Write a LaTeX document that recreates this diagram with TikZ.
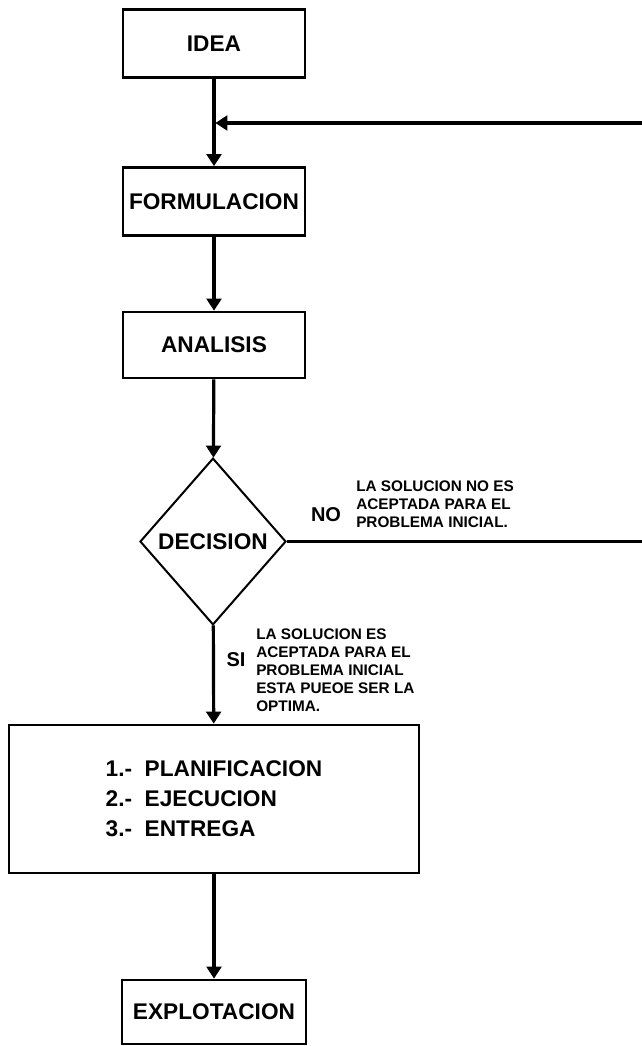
\documentclass[tikz,border=0pt]{standalone}
\usepackage{fontspec}
\setmainfont{Liberation Sans}
\usepackage{tikz}
\usetikzlibrary{positioning, shapes.geometric, arrows.meta, calc}
\tikzstyle{caja}  = [rectangle, draw, line width=2pt, align=center, inner sep=2pt,
                     font=\fontsize{17}{22.5}\selectfont\bfseries,
                     minimum width=136.5pt, minimum height=51pt]
\begin{document}
\begin{tikzpicture}[
  x=0.75pt, y=-0.75pt,
  >={Triangle[length=9pt,width=11pt]},
  rombo/.style={diamond, draw, line width=1.5pt, inner sep=1pt,
                font=\fontsize{17}{20}\selectfont\bfseries,
                minimum width=109.5pt, minimum height=125pt},
  nota/.style={align=left, inner sep=0pt, anchor=north west,
               font=\fontsize{11.5}{13.5}\selectfont\bfseries},
  rama/.style={inner sep=0pt, font=\fontsize{15}{15}\selectfont\bfseries},
  arr/.style={->, line width=2.4pt},
  lin/.style={line width=2.4pt}
]
\useasboundingbox (0,0) rectangle (642,1046);
\node[caja] (idea) at (214, 43.5) {IDEA};
\node[caja] (form) at (214, 201.5) {FORMULACION};
\node[caja, minimum height=49.5pt] (anal) at (214, 345) {ANALISIS};
\node[rombo] (dec) at (213, 541.5) {DECISION};
\node[caja, align=left, minimum width=307.5pt, minimum height=111pt] (plan) at (214, 799)
  {1.-\ \ PLANIFICACION\\2.-\ \ EJECUCION\\3.-\ \ ENTREGA};
\node[caja, minimum width=138pt, minimum height=48pt] (expl) at (214, 1012) {EXPLOTACION};
% retorno desde el lado derecho
\coordinate (borde) at (642, 123);
\coordinate (junta) at (214, 123);
\node[rama] (no) at (326, 515) {NO};
\node[nota] (notano) at (356, 481) {LA SOLUCION NO ES\\ACEPTADA PARA EL\\PROBLEMA INICIAL.};
\node[rama] (si) at (236, 660) {SI};
\node[nota] (notasi) at (256, 629) {LA SOLUCION ES\\ACEPTADA PARA EL\\PROBLEMA INICIAL\\ESTA PUEOE SER LA\\OPTIMA.};
\draw[lin] (idea) -- (junta);
\draw[arr] (junta) -- (form);
\draw[arr, shorten >=1pt] (borde) -- (junta);
\draw[arr] (form) -- (anal);
\draw[arr] (anal) -- (dec);
\draw[lin] (dec.east) -- (dec.east -| borde);
\draw[arr] (dec) -- (plan);
\draw[arr] (plan) -- (expl);
\end{tikzpicture}
\end{document}
